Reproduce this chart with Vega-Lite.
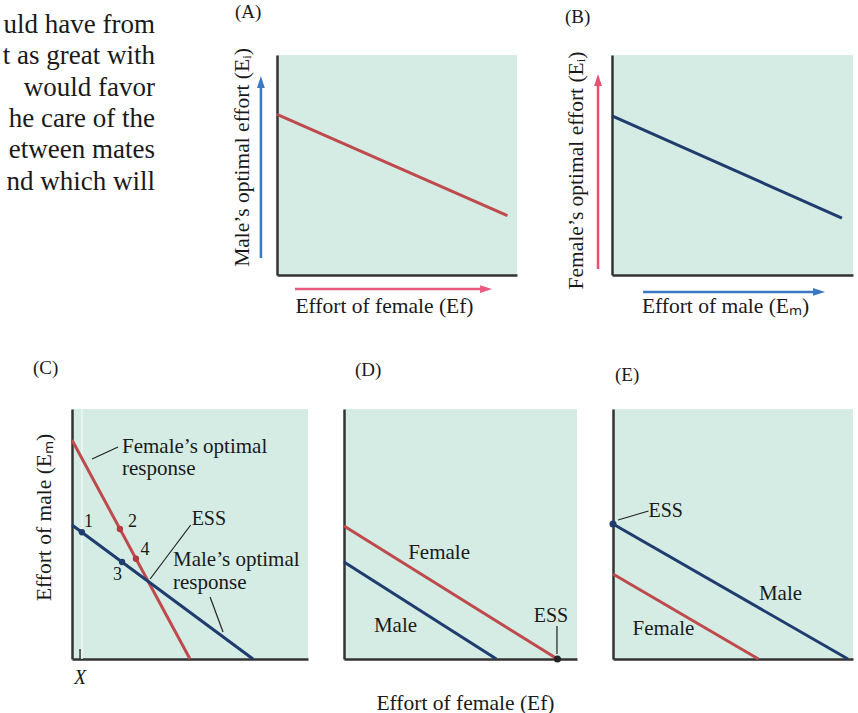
{
  "$schema": "https://vega.github.io/schema/vega-lite/v6.json",
  "background": "white",
  "padding": {"left": 0, "top": 2, "right": 0, "bottom": 0},
  "spacing": 42,
  "config": {
    "view": {"fill": "#d4ece4", "stroke": null},
    "axis": {"domainColor": "#333333", "domainWidth": 2.5, "ticks": false, "labels": false, "grid": false, "titleFont": "Liberation Serif", "titleFontSize": 21.5, "titleFontWeight": "normal", "titleColor": "#1a1a1a"},
    "title": {"font": "Liberation Serif", "fontWeight": "normal", "fontSize": 19, "color": "#1a1a1a", "anchor": "start", "frame": "group", "baseline": "alphabetic"},
    "text": {"font": "Liberation Serif", "color": "#1a1a1a"}
  },
  "vconcat": [
    {
      "bounds": "flush",
      "spacing": 95,
      "hconcat": [
        {
          "width": 182, "height": 220,
          "view": {"fill": null, "stroke": null},
          "data": {"values": [
            {"line": 1, "t": "uld have from"},
            {"line": 2, "t": "t as great with"},
            {"line": 3, "t": "would favor"},
            {"line": 4, "t": "he care of the"},
            {"line": 5, "t": "etween mates"},
            {"line": 6, "t": "nd which will"}
          ]},
          "mark": {"type": "text", "align": "right", "baseline": "alphabetic", "fontSize": 27},
          "encoding": {
            "x": {"datum": 1, "type": "quantitative", "scale": {"domain": [0, 1.174], "nice": false, "zero": false}, "axis": null},
            "y": {"field": "line", "type": "quantitative", "scale": {"domain": [1.71, 8.716], "reverse": true, "nice": false, "zero": false}, "axis": null},
            "text": {"field": "t"}
          }
        },
        {
          "width": 240, "height": 220,
          "title": {"text": "(A)", "dx": -42, "offset": 26},
          "encoding": {
            "x": {"field": "x", "type": "quantitative", "scale": {"domain": [0, 100], "nice": false, "zero": false}, "axis": {"title": "Effort of female (Ef)", "titlePadding": 20, "titleX": 107}},
            "y": {"field": "y", "type": "quantitative", "scale": {"domain": [0, 100], "nice": false, "zero": false}, "axis": {"title": "Male’s optimal effort (Eᵢ)", "titlePadding": 24, "titleY": 102}}
          },
          "layer": [
            {"data": {"values": [{"x": 0, "y": 73}, {"x": 96, "y": 27}]}, "mark": {"type": "line", "color": "#bf4a4d", "strokeWidth": 3}},
            {"data": {"values": [{"x": -6.7, "y": 7.7}, {"x": -6.7, "y": 86}]}, "mark": {"type": "line", "color": "#3b78c4", "strokeWidth": 2.5}},
            {"data": {"values": [{"x": -6.7, "y": 87.7}]}, "mark": {"type": "point", "shape": "M0,-1L0.65,1L-0.65,1Z", "filled": true, "size": 144, "color": "#3b78c4", "opacity": 1}},
            {"data": {"values": [{"x": 7.5, "y": -6.4}, {"x": 86, "y": -6.4}]}, "mark": {"type": "line", "color": "#e85a80", "strokeWidth": 2.5}},
            {"data": {"values": [{"x": 87.1, "y": -6.4}]}, "mark": {"type": "point", "shape": "M-1,-0.65L1,0L-1,0.65Z", "filled": true, "size": 144, "color": "#e85a80", "opacity": 1}}
          ]
        },
        {
          "width": 241, "height": 220,
          "title": {"text": "(B)", "dx": -47, "offset": 24},
          "encoding": {
            "x": {"field": "x", "type": "quantitative", "scale": {"domain": [0, 100], "nice": false, "zero": false}, "axis": {"title": "Effort of male (Eₘ)", "titlePadding": 20, "titleX": 113}},
            "y": {"field": "y", "type": "quantitative", "scale": {"domain": [0, 100], "nice": false, "zero": false}, "axis": {"title": "Female’s optimal effort (Eᵢ)", "titlePadding": 25, "titleY": 115}}
          },
          "layer": [
            {"data": {"values": [{"x": 0, "y": 72.3}, {"x": 95.4, "y": 25.9}]}, "mark": {"type": "line", "color": "#1e3c6e", "strokeWidth": 3}},
            {"data": {"values": [{"x": -5.8, "y": 2.7}, {"x": -5.8, "y": 87}]}, "mark": {"type": "line", "color": "#e8506f", "strokeWidth": 2.5}},
            {"data": {"values": [{"x": -5.8, "y": 88.6}]}, "mark": {"type": "point", "shape": "M0,-1L0.65,1L-0.65,1Z", "filled": true, "size": 144, "color": "#e8506f", "opacity": 1}},
            {"data": {"values": [{"x": 12.9, "y": -7.7}, {"x": 84.5, "y": -7.7}]}, "mark": {"type": "line", "color": "#3b78c4", "strokeWidth": 2.5}},
            {"data": {"values": [{"x": 85.9, "y": -7.7}]}, "mark": {"type": "point", "shape": "M-1,-0.65L1,0L-1,0.65Z", "filled": true, "size": 144, "color": "#3b78c4", "opacity": 1}}
          ]
        }
      ]
    },
    {
      "bounds": "flush",
      "spacing": 36,
      "hconcat": [
        {
          "width": 36, "height": 250,
          "view": {"fill": null, "stroke": null},
          "data": {"values": []},
          "mark": {"type": "point", "opacity": 0}
        },
        {
          "width": 236, "height": 250,
          "title": {"text": "(C)", "dx": -39, "offset": 27},
          "encoding": {
            "x": {"field": "x", "type": "quantitative", "scale": {"domain": [0, 100], "nice": false, "zero": false}, "axis": {"title": null}},
            "y": {"field": "y", "type": "quantitative", "scale": {"domain": [0, 100], "nice": false, "zero": false}, "axis": {"title": "Effort of male (Eₘ)", "titlePadding": 17, "titleY": 108}}
          },
          "layer": [
            {"data": {"values": [{"x": 4.2, "y": 0}, {"x": 4.2, "y": 100}]}, "mark": {"type": "line", "color": "#eef8f4", "strokeWidth": 2, "opacity": 0.8}},
            {"data": {"values": [{"x": 3.4, "y": 0}, {"x": 3.4, "y": 4}]}, "mark": {"type": "line", "color": "#333333", "strokeWidth": 1.5}},
            {"data": {"values": [{"x": 0, "y": 87.6}, {"x": 50, "y": 0}]}, "mark": {"type": "line", "color": "#bf4a4d", "strokeWidth": 3}},
            {"data": {"values": [{"x": 0, "y": 53.6}, {"x": 76.7, "y": 0}]}, "mark": {"type": "line", "color": "#1e3c6e", "strokeWidth": 3}},
            {"data": {"values": [{"x": 8.5, "y": 80}, {"x": 19.5, "y": 84.8}]}, "mark": {"type": "line", "color": "#222222", "strokeWidth": 1.2}},
            {"data": {"values": [{"x": 33.1, "y": 32}, {"x": 50.3, "y": 53.6}]}, "mark": {"type": "line", "color": "#222222", "strokeWidth": 1.2}},
            {"data": {"values": [{"x": 58.5, "y": 24.8}, {"x": 64, "y": 10.8}]}, "mark": {"type": "line", "color": "#222222", "strokeWidth": 1.2}},
            {"data": {"values": [{"x": 4.2, "y": 50.7}, {"x": 21.2, "y": 38.8}]}, "mark": {"type": "point", "filled": true, "size": 40, "color": "#1e3c6e", "opacity": 1}},
            {"data": {"values": [{"x": 20.3, "y": 52.0}, {"x": 27.1, "y": 40.1}]}, "mark": {"type": "point", "filled": true, "size": 40, "color": "#b03a3e", "opacity": 1}},
            {"data": {"values": [
              {"x": 21.2, "y": 82.6, "t": "Female’s optimal"},
              {"x": 21.2, "y": 73.6, "t": "response"},
              {"x": 42.8, "y": 37.2, "t": "Male’s optimal"},
              {"x": 42.8, "y": 28, "t": "response"}
            ]}, "mark": {"type": "text", "align": "left", "baseline": "alphabetic", "fontSize": 21}, "encoding": {"text": {"field": "t"}}},
            {"data": {"values": [{"x": 50.7, "y": 53.6, "t": "ESS"}]}, "mark": {"type": "text", "align": "left", "baseline": "alphabetic", "fontSize": 20}, "encoding": {"text": {"field": "t"}}},
            {"data": {"values": [
              {"x": 7.0, "y": 52.8, "t": "1"},
              {"x": 25.6, "y": 52.8, "t": "2"},
              {"x": 30.9, "y": 41.6, "t": "4"},
              {"x": 19.3, "y": 31.6, "t": "3"}
            ]}, "mark": {"type": "text", "align": "center", "baseline": "alphabetic", "fontSize": 18}, "encoding": {"text": {"field": "t"}}},
            {"data": {"values": [{"x": 3.4, "y": -10, "t": "X"}]}, "mark": {"type": "text", "align": "center", "baseline": "alphabetic", "fontSize": 20, "fontStyle": "italic"}, "encoding": {"text": {"field": "t"}}}
          ]
        },
        {
          "width": 233, "height": 250,
          "title": {"text": "(D)", "dx": 11, "offset": 29},
          "encoding": {
            "x": {"field": "x", "type": "quantitative", "scale": {"domain": [0, 100], "nice": false, "zero": false}, "axis": {"title": "Effort of female (Ef)", "titlePadding": 33, "titleX": 121}},
            "y": {"field": "y", "type": "quantitative", "scale": {"domain": [0, 100], "nice": false, "zero": false}, "axis": {"title": null}}
          },
          "layer": [
            {"data": {"values": [{"x": 0, "y": 53.2}, {"x": 91.6, "y": 0}]}, "mark": {"type": "line", "color": "#bf4a4d", "strokeWidth": 3}},
            {"data": {"values": [{"x": 0, "y": 38.8}, {"x": 65.4, "y": 0}]}, "mark": {"type": "line", "color": "#1e3c6e", "strokeWidth": 3}},
            {"data": {"values": [{"x": 91.4, "y": 2}, {"x": 91.4, "y": 13.2}]}, "mark": {"type": "line", "color": "#222222", "strokeWidth": 1.2}},
            {"data": {"values": [{"x": 91.6, "y": 0}]}, "mark": {"type": "point", "filled": true, "size": 50, "color": "#222222", "opacity": 1}},
            {"data": {"values": [
              {"x": 40.8, "y": 40, "t": "Female"},
              {"x": 22.1, "y": 10.8, "t": "Male"}
            ]}, "mark": {"type": "text", "align": "center", "baseline": "alphabetic", "fontSize": 21}, "encoding": {"text": {"field": "t"}}},
            {"data": {"values": [{"x": 88.8, "y": 14.8, "t": "ESS"}]}, "mark": {"type": "text", "align": "center", "baseline": "alphabetic", "fontSize": 20}, "encoding": {"text": {"field": "t"}}}
          ]
        },
        {
          "width": 240, "height": 250,
          "title": {"text": "(E)", "dx": 2, "offset": 24},
          "encoding": {
            "x": {"field": "x", "type": "quantitative", "scale": {"domain": [0, 100], "nice": false, "zero": false}, "axis": {"title": null}},
            "y": {"field": "y", "type": "quantitative", "scale": {"domain": [0, 100], "nice": false, "zero": false}, "axis": {"title": null}}
          },
          "layer": [
            {"data": {"values": [{"x": 0, "y": 54}, {"x": 97.9, "y": 0}]}, "mark": {"type": "line", "color": "#1e3c6e", "strokeWidth": 3}},
            {"data": {"values": [{"x": 0, "y": 34}, {"x": 60.6, "y": 0}]}, "mark": {"type": "line", "color": "#bf4a4d", "strokeWidth": 3}},
            {"data": {"values": [{"x": 2.1, "y": 55.6}, {"x": 14.8, "y": 59.2}]}, "mark": {"type": "line", "color": "#222222", "strokeWidth": 1.2}},
            {"data": {"values": [{"x": 0, "y": 54}]}, "mark": {"type": "point", "filled": true, "size": 50, "color": "#1e3c6e", "opacity": 1}},
            {"data": {"values": [{"x": 14.8, "y": 56.8, "t": "ESS"}]}, "mark": {"type": "text", "align": "left", "baseline": "alphabetic", "fontSize": 20}, "encoding": {"text": {"field": "t"}}},
            {"data": {"values": [
              {"x": 69.8, "y": 23.6, "t": "Male"},
              {"x": 21, "y": 9.6, "t": "Female"}
            ]}, "mark": {"type": "text", "align": "center", "baseline": "alphabetic", "fontSize": 21}, "encoding": {"text": {"field": "t"}}}
          ]
        }
      ]
    }
  ]
}
